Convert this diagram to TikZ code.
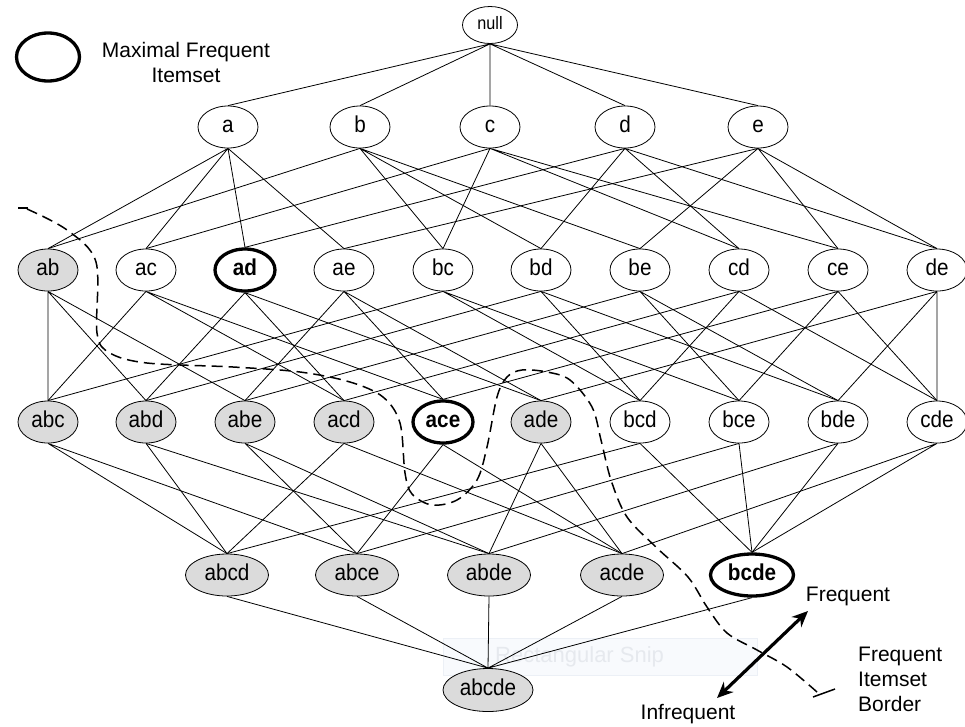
\documentclass[tikz,border=0pt]{standalone}
\usepackage{fontspec}
\setmainfont{Liberation Sans}
\newfontfamily\labelfont[FakeStretch=0.9]{Liberation Sans}
\usetikzlibrary{shapes.geometric,arrows.meta}
\definecolor{infreqgray}{gray}{0.86}
\definecolor{snipfill}{RGB}{248,250,253}
\definecolor{snipline}{RGB}{236,240,246}
\definecolor{sniptext}{RGB}{230,233,238}
\tikzset{
 item/.style={ellipse, draw, line width=0.8pt, inner sep=0pt, minimum width=60pt,
  minimum height=42pt, text height=12pt, text depth=1pt,
  font=\labelfont\fontsize{23}{27}\selectfont},
 wide/.style={minimum width=83pt},
 infreq/.style={fill=infreqgray},
 maximal/.style={line width=3.3pt, font=\labelfont\fontsize{23}{27}\selectfont\bfseries},
 link/.style={line width=0.8pt},
 border/.style={line width=1.5pt, dash pattern=on 11pt off 6pt},
 caption/.style={font=\fontsize{21}{25}\selectfont, inner sep=0pt}
}
\begin{document}
\begin{tikzpicture}[x=1pt, y=-1pt]
 \useasboundingbox (0,0) rectangle (965,726);
 % screen snip left behind
 \draw[snipline, fill=snipfill] (443,638) rectangle (757,675);
 \node[caption, anchor=west, text=sniptext, font=\fontsize{22}{26}\selectfont] (snip) at (495,657) {Rectangular Snip};
 % legend
 \node[item, maximal, minimum width=63pt, minimum height=48pt] (legend) at (48,57) {};
 \node[caption, align=center] (legendtext) at (186,62) {Maximal Frequent\\Itemset};
 % lattice
 \node[item, minimum width=55pt, minimum height=37pt, text height=10pt, font=\labelfont\fontsize{18}{21}\selectfont] (null) at (490,25) {null};
 \node[item] (a) at (228,127) {a};
 \node[item] (b) at (360,127) {b};
 \node[item] (c) at (490,127) {c};
 \node[item] (d) at (625,127) {d};
 \node[item] (e) at (758,127) {e};
 \node[item, infreq] (ab) at (48,270) {ab};
 \node[item] (ac) at (146,270) {ac};
 \node[item, maximal] (ad) at (245,270) {ad};
 \node[item] (ae) at (344,270) {ae};
 \node[item] (bc) at (443,270) {bc};
 \node[item] (bd) at (541,270) {bd};
 \node[item] (be) at (640,270) {be};
 \node[item] (cd) at (739,270) {cd};
 \node[item] (ce) at (838,270) {ce};
 \node[item] (de) at (937,270) {de};
 \node[item, infreq] (abc) at (48,422) {abc};
 \node[item, infreq] (abd) at (146,422) {abd};
 \node[item, infreq] (abe) at (245,422) {abe};
 \node[item, infreq] (acd) at (344,422) {acd};
 \node[item, maximal] (ace) at (443,422) {ace};
 \node[item, infreq] (ade) at (541,422) {ade};
 \node[item] (bcd) at (640,422) {bcd};
 \node[item] (bce) at (739,422) {bce};
 \node[item] (bde) at (838,422) {bde};
 \node[item] (cde) at (937,422) {cde};
 \node[item, wide, infreq] (abcd) at (227,575) {abcd};
 \node[item, wide, infreq] (abce) at (357,575) {abce};
 \node[item, wide, infreq] (abde) at (489,575) {abde};
 \node[item, wide, infreq] (acde) at (622,575) {acde};
 \node[item, wide, maximal] (bcde) at (752,575) {bcde};
 \node[item, infreq, minimum width=90pt, minimum height=43pt] (abcde) at (488,690) {abcde};
 % edges
 \draw[link] (null.south) -- (a.north) (null.south) -- (b.north) (null.south) -- (c.north) (null.south) -- (d.north) (null.south) -- (e.north);
 \draw[link] (a.south) -- (ab.north) (a.south) -- (ac.north) (a.south) -- (ad.north) (a.south) -- (ae.north);
 \draw[link] (b.south) -- (ab.north) (b.south) -- (bc.north) (b.south) -- (bd.north) (b.south) -- (be.north);
 \draw[link] (c.south) -- (ac.north) (c.south) -- (bc.north) (c.south) -- (cd.north) (c.south) -- (ce.north);
 \draw[link] (d.south) -- (ad.north) (d.south) -- (bd.north) (d.south) -- (cd.north) (d.south) -- (de.north);
 \draw[link] (e.south) -- (ae.north) (e.south) -- (be.north) (e.south) -- (ce.north) (e.south) -- (de.north);
 \draw[link] (ab.south) -- (abc.north) (ab.south) -- (abd.north) (ab.south) -- (abe.north);
 \draw[link] (ac.south) -- (abc.north) (ac.south) -- (acd.north) (ac.south) -- (ace.north);
 \draw[link] (ad.south) -- (abd.north) (ad.south) -- (acd.north) (ad.south) -- (ade.north);
 \draw[link] (ae.south) -- (abe.north) (ae.south) -- (ace.north) (ae.south) -- (ade.north);
 \draw[link] (bc.south) -- (abc.north) (bc.south) -- (bcd.north) (bc.south) -- (bce.north);
 \draw[link] (bd.south) -- (abd.north) (bd.south) -- (bcd.north) (bd.south) -- (bde.north);
 \draw[link] (be.south) -- (abe.north) (be.south) -- (bce.north) (be.south) -- (bde.north);
 \draw[link] (cd.south) -- (acd.north) (cd.south) -- (bcd.north) (cd.south) -- (cde.north);
 \draw[link] (ce.south) -- (ace.north) (ce.south) -- (bce.north) (ce.south) -- (cde.north);
 \draw[link] (de.south) -- (ade.north) (de.south) -- (bde.north) (de.south) -- (cde.north);
 \draw[link] (abc.south) -- (abcd.north) (abc.south) -- (abce.north);
 \draw[link] (abd.south) -- (abcd.north) (abd.south) -- (abde.north);
 \draw[link] (abe.south) -- (abce.north) (abe.south) -- (abde.north);
 \draw[link] (acd.south) -- (abcd.north) (acd.south) -- (acde.north);
 \draw[link] (ace.south) -- (abce.north) (ace.south) -- (acde.north);
 \draw[link] (ade.south) -- (abde.north) (ade.south) -- (acde.north);
 \draw[link] (bcd.south) -- (abcd.north) (bcd.south) -- (bcde.north);
 \draw[link] (bce.south) -- (abce.north) (bce.south) -- (bcde.north);
 \draw[link] (bde.south) -- (abde.north) (bde.south) -- (bcde.north);
 \draw[link] (cde.south) -- (acde.north) (cde.south) -- (bcde.north);
 \draw[link] (abcd.south) -- (abcde.north) (abce.south) -- (abcde.north) (abde.south) -- (abcde.north) (acde.south) -- (abcde.north) (bcde.south) -- (abcde.north);
 % frequent itemset border
 \draw[border] plot[smooth, tension=0.55] coordinates {(27,209) (67,230) (96,262) (97,333) (110,353) (147,363) (233,367) (300,372) (350,382) (383,397) (400,423) (405,473) (412,494) (432,505) (457,500) (477,480) (487,447) (497,397) (507,377) (522,370) (547,372) (570,380) (592,407) (601,440) (611,480) (627,517) (657,548) (688,577) (707,607) (727,633) (757,650) (787,667) (817,692)};
 \draw[line width=1.5pt] (18,208) -- (28,208);
 \draw[line width=1.5pt] (813,697) -- (835,689);
 \node[caption] (freq) at (848,596) {Frequent};
 \node[caption] (infreq) at (688,714) {Infrequent};
 \node[caption, anchor=west, align=left] (bordertext) at (858,679) {Frequent\\Itemset\\Border};
 \coordinate (arrhi) at (808,611);
 \coordinate (arrlo) at (717,698);
 \draw[{Stealth[length=16pt,width=14pt]}-{Stealth[length=16pt,width=14pt]}, line width=3.2pt] (arrlo) -- (arrhi);
\end{tikzpicture}
\end{document}
